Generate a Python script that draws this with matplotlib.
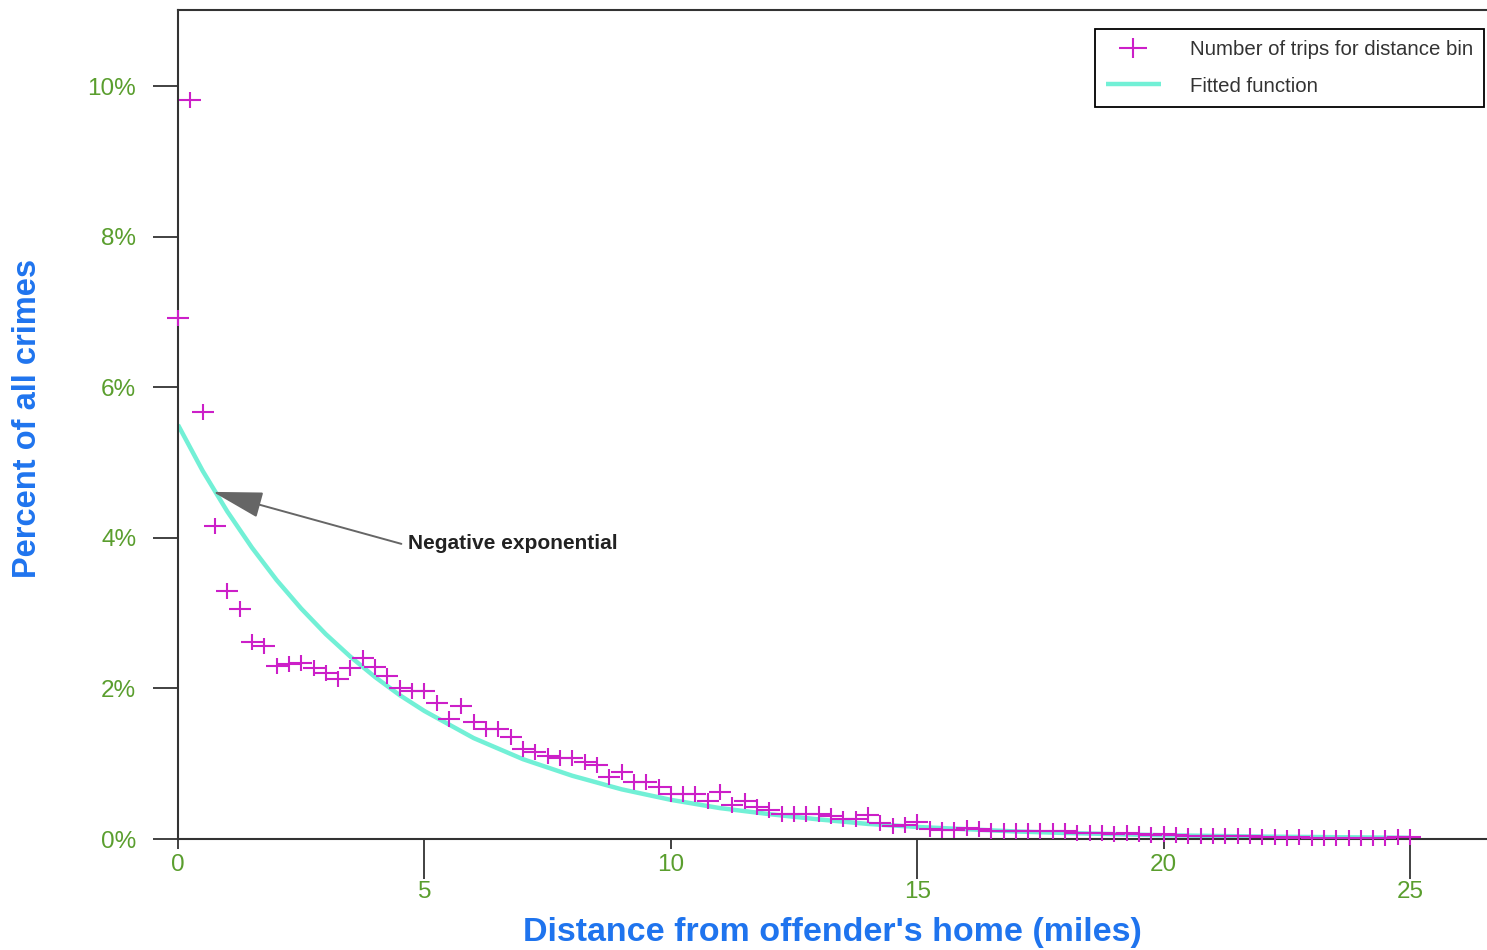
import matplotlib
matplotlib.use('Agg')
import matplotlib.pyplot as plt
from matplotlib.path import Path

plt.rcParams['font.family'] = ['Liberation Sans', 'DejaVu Sans']

# share of crimes per quarter-mile distance bin (percent)
bin_miles = [i * 0.25 for i in range(101)]
pct_crimes = [
    6.92, 9.81, 5.67, 4.16, 3.29, 3.05, 2.62, 2.56, 2.30, 2.32,
    2.34, 2.27, 2.21, 2.12, 2.27, 2.41, 2.28, 2.16, 2.00, 1.96,
    1.96, 1.81, 1.59, 1.76, 1.56, 1.46, 1.46, 1.36, 1.20, 1.16,
    1.10, 1.08, 1.08, 1.02, 0.98, 0.83, 0.89, 0.76, 0.76, 0.69,
    0.60, 0.60, 0.60, 0.50, 0.63, 0.45, 0.51, 0.42, 0.38, 0.33,
    0.33, 0.33, 0.33, 0.30, 0.27, 0.27, 0.32, 0.21, 0.17, 0.19,
    0.22, 0.13, 0.12, 0.12, 0.14, 0.13, 0.11, 0.10, 0.11, 0.10,
    0.10, 0.10, 0.10, 0.08, 0.08, 0.08, 0.07, 0.08, 0.07, 0.05,
    0.07, 0.05, 0.04, 0.04, 0.04, 0.04, 0.04, 0.04, 0.03, 0.03,
    0.01, 0.03, 0.01, 0.01, 0.01, 0.01, 0.01, 0.01, 0.01, 0.02,
    0.02,
]

# negative exponential fit, read at a set of distances
fit_miles = [0, 0.5, 1, 1.5, 2, 2.5, 3, 3.5, 4, 4.5, 5, 6, 7, 8, 9, 10,
             11, 12, 13, 14, 15, 16, 17, 18, 19, 20, 22, 25]
fit_pct = [5.50, 4.89, 4.35, 3.87, 3.44, 3.06, 2.72, 2.42, 2.15, 1.91,
           1.70, 1.34, 1.06, 0.84, 0.66, 0.52, 0.41, 0.33, 0.26, 0.20,
           0.16, 0.13, 0.10, 0.08, 0.064, 0.05, 0.032, 0.016]

y_ticks = [0, 2, 4, 6, 8, 10]
y_ticklabels = ['0%', '2%', '4%', '6%', '8%', '10%']

green = '#5a9e2e'
blue = '#1f74ee'
magenta = '#cc1fc8'
teal = '#72f0d6'

# wide, short plus sign
plus = Path([(-1, 0), (1, 0), (0, -0.72), (0, 0.72)],
            [Path.MOVETO, Path.LINETO, Path.MOVETO, Path.LINETO])

fig = plt.figure(figsize=(14.87, 9.5), dpi=100)
ax = fig.add_axes([178 / 1487, 1 - 839 / 950, 1 - 178 / 1487, 829 / 950])

ax.plot(fit_miles, fit_pct, color=teal, lw=3.2, zorder=2,
        label='Fitted function', solid_capstyle='butt')
ax.plot(bin_miles, pct_crimes, linestyle='none', marker=plus, markersize=15.5,
        markeredgewidth=1.5, color=magenta, zorder=3, clip_on=False,
        label='Number of trips for distance bin')

ax.set_xlim(0, 26.56)
ax.set_ylim(0, 11.01)

for side in ['left', 'bottom', 'top']:
    ax.spines[side].set_color('#333333')
    ax.spines[side].set_linewidth(1.5)
ax.spines['right'].set_visible(False)

ax.set_yticks(y_ticks)
ax.set_yticklabels(y_ticklabels)
ax.tick_params(axis='y', length=18, width=1.3, color='#333333', pad=12,
               labelsize=17.5, labelcolor=green)

# short ticks on 0/10/20, long ticks on 5/15/25
ax.set_xticks([0, 10, 20])
ax.set_xticklabels(['0', '10', '20'])
ax.set_xticks([5, 15, 25], minor=True)
ax.set_xticklabels(['5', '15', '25'], minor=True)
ax.tick_params(axis='x', which='major', length=7.5, width=1.3, color='#333333',
               pad=3, labelsize=17.5, labelcolor=green)
ax.tick_params(axis='x', which='minor', length=28.5, width=1.3, color='#333333',
               pad=2, labelsize=17.5, labelcolor=green)

ax.set_xlabel("Distance from offender's home (miles)", fontsize=24.5,
              fontweight='bold', color=blue)
ax.xaxis.set_label_coords(0.5, (839 - 933) / 829)
ax.xaxis.label.set_va('center')
ax.set_ylabel('Percent of all crimes', fontsize=23.5, fontweight='bold',
              color=blue)
ax.yaxis.set_label_coords((28 - 178) / 1309, (839 - 418) / 829)
ax.yaxis.label.set_va('center')

ax.annotate('Negative exponential', xy=(0.71, 4.61), xytext=(4.67, 3.92),
            fontsize=15, fontweight='bold', color='#222222',
            ha='left', va='center',
            arrowprops=dict(arrowstyle='-|>,head_length=2.1,head_width=0.55',
                            color='#666666', lw=1.4, shrinkA=3, shrinkB=0,
                            relpos=(0, 0.4)))

handles, labels = ax.get_legend_handles_labels()
leg = ax.legend(handles[::-1], labels[::-1], loc='upper right',
                bbox_to_anchor=(1484 / 1487, 1 - 29 / 950),
                bbox_transform=fig.transFigure, borderaxespad=0,
                fancybox=False, framealpha=1, edgecolor='black',
                fontsize=14.7, borderpad=0.55, handlelength=2.7,
                handletextpad=1.4, labelspacing=0.85, markerscale=1.3)
leg.get_frame().set_linewidth(1.3)
for t in leg.get_texts():
    t.set_color('#333333')

fig.savefig('out.png', dpi=100)
